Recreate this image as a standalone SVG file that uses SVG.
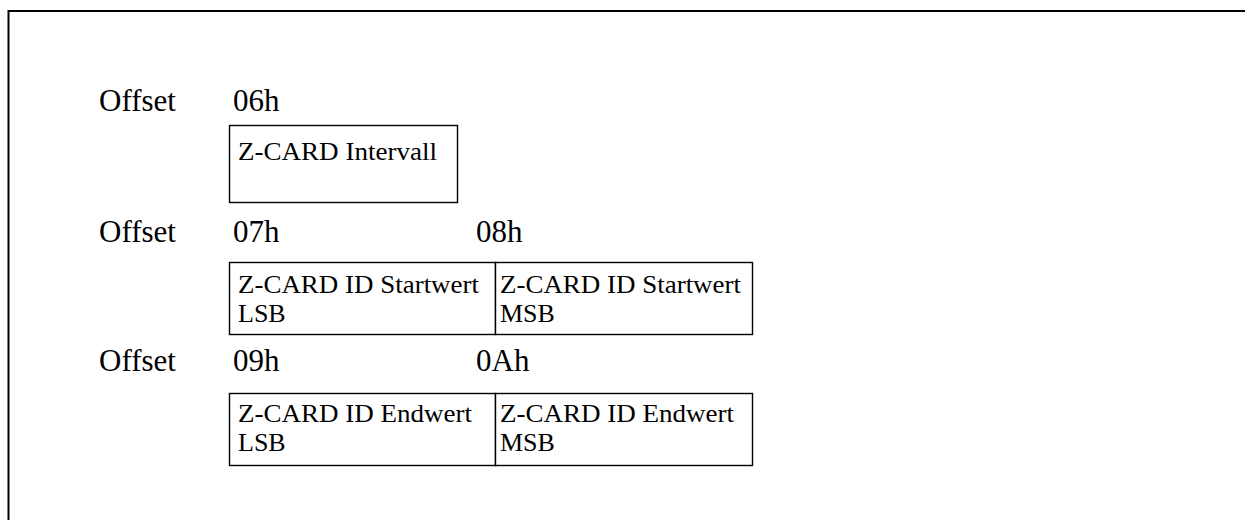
<svg xmlns="http://www.w3.org/2000/svg" width="1245" height="520" viewBox="0 0 1245 520">
<style>
.lbl{font-family:"Liberation Serif","Times New Roman",serif;font-size:31px;fill:#000}
.cell{font-family:"Liberation Serif","Times New Roman",serif;font-size:26px;fill:#000}
.box{fill:#fff;stroke:#000;stroke-width:1.4}
.frame{fill:none;stroke:#000;stroke-width:2}
</style>
<rect width="1245" height="520" fill="#fff"/>
<path class="frame" d="M8.5,520 V11 H1245"/>
<g id="labels">
<text class="lbl" x="99" y="111">Offset</text>
<text class="lbl" x="233" y="111">06h</text>
<text class="lbl" x="99" y="242">Offset</text>
<text class="lbl" x="233" y="242">07h</text>
<text class="lbl" x="476" y="242">08h</text>
<text class="lbl" x="99" y="371">Offset</text>
<text class="lbl" x="233" y="371">09h</text>
<text class="lbl" x="476" y="371">0Ah</text>
</g>
<g id="node-intervall">
<rect class="box" x="229.5" y="125.5" width="228" height="77"/>
<text class="cell" x="238" y="160" textLength="199" lengthAdjust="spacingAndGlyphs">Z-CARD Intervall</text>
</g>
<g id="node-start-lsb">
<rect class="box" x="229.5" y="262.5" width="266" height="72"/>
<text class="cell" x="238" y="293"><tspan textLength="241" lengthAdjust="spacingAndGlyphs">Z-CARD ID Startwert</tspan><tspan x="238" dy="29">LSB</tspan></text>
</g>
<g id="node-start-msb">
<rect class="box" x="495.5" y="262.5" width="257" height="72"/>
<text class="cell" x="500" y="293"><tspan textLength="241" lengthAdjust="spacingAndGlyphs">Z-CARD ID Startwert</tspan><tspan x="500" dy="29">MSB</tspan></text>
</g>
<g id="node-end-lsb">
<rect class="box" x="229.5" y="393.5" width="266" height="72"/>
<text class="cell" x="238" y="422"><tspan textLength="234" lengthAdjust="spacingAndGlyphs">Z-CARD ID Endwert</tspan><tspan x="238" dy="29">LSB</tspan></text>
</g>
<g id="node-end-msb">
<rect class="box" x="495.5" y="393.5" width="257" height="72"/>
<text class="cell" x="500" y="422"><tspan textLength="234" lengthAdjust="spacingAndGlyphs">Z-CARD ID Endwert</tspan><tspan x="500" dy="29">MSB</tspan></text>
</g>
<g id="connectors"></g>
</svg>
